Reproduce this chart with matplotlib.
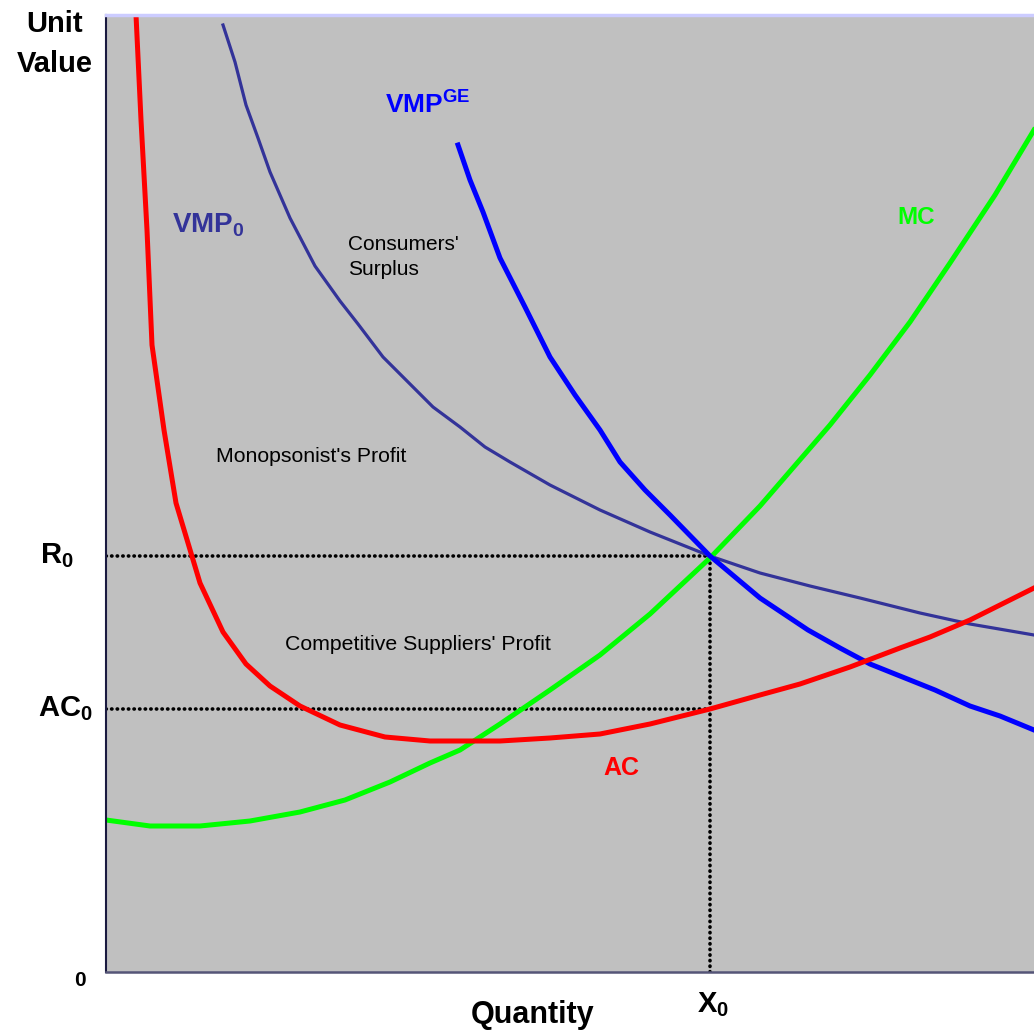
# monopsony diagram: unit value vs quantity
import matplotlib.pyplot as plt

plt.rcParams['font.family'] = ['Liberation Sans', 'DejaVu Sans']
plt.rcParams['mathtext.fontset'] = 'custom'
plt.rcParams['mathtext.bf'] = 'Liberation Sans:bold'
plt.rcParams['mathtext.rm'] = 'Liberation Sans'

# curves (quantity, unit value)
ac_x = [30, 35, 41, 46, 58, 70, 94, 117, 140, 164, 194, 234, 279, 324, 394, 444,
        494, 544, 604, 654, 694, 744, 794, 824, 864, 894, 928]
ac_y = [957, 852, 742, 627, 542, 469, 389, 340, 308, 286, 266, 247, 235, 231, 231, 234,
        238, 248, 263, 277, 288, 305, 324, 335, 352, 367, 384]

mc_x = [0, 44, 94, 144, 194, 239, 284, 324, 354, 394, 444, 494, 544, 604, 654, 724,
        764, 804, 844, 889, 928]
mc_y = [152, 146, 146, 151, 160, 172, 190, 209, 222, 248, 282, 317, 358, 414, 466, 547,
        597, 650, 709, 777, 842]

vmpge_x = [352, 364, 377, 394, 419, 444, 469, 494, 514, 539, 564, 604, 654, 702, 734,
           764, 794, 829, 864, 894, 928]
vmpge_y = [827, 792, 760, 714, 665, 615, 577, 542, 510, 482, 457, 416, 374, 342, 324,
           308, 296, 282, 266, 256, 242]

vmp0_x = [117, 129, 140, 152, 164, 184, 209, 234, 252, 277, 304, 327, 354, 379, 404, 444,
          494, 544, 604, 654, 704, 754, 814, 864, 928]
vmp0_y = [947, 910, 867, 834, 800, 754, 706, 671, 648, 615, 588, 565, 545, 525, 510, 487,
          462, 440, 416, 399, 386, 374, 359, 348, 337]

x0 = 604
r0 = 416
ac0 = 263

fig = plt.figure(figsize=(10.34, 10.33), dpi=100)
ax = fig.add_axes([106/1034, 61/1033, 928/1034, 957/1033])
ax.set_facecolor('#C0C0C0')
ax.set_xlim(0, 928)
ax.set_ylim(0, 957)

# dotted guide lines
dots = dict(color='black', lw=2.6, linestyle=(0, (0.1, 1.45)), dash_capstyle='round')
ax.plot([0, x0], [r0, r0], **dots)
ax.plot([0, x0], [ac0, ac0], **dots)
ax.plot([x0, x0], [0, r0], **dots)

ax.plot(vmp0_x, vmp0_y, color='#333399', lw=2.3)
ax.plot(mc_x, mc_y, color='#00FF00', lw=3.6)
ax.plot(vmpge_x, vmpge_y, color='#0000FF', lw=3.6)
ax.plot(ac_x, ac_y, color='#FF0000', lw=3.6)

# curve labels
ax.text(279, 867, r'$\mathbf{VMP^{GE}}$', color='#0000FF', fontsize=19, va='center')
ax.text(66, 747, r'$\mathbf{VMP_0}$', color='#333399', fontsize=20, va='center')
ax.text(791, 755, 'MC', color='#00FF00', fontsize=17.5, fontweight='bold', va='center')
ax.text(497, 204, 'AC', color='#FF0000', fontsize=18, fontweight='bold', va='center')

# area labels
ax.text(242, 715, "Consumers'\nSurplus", fontsize=15, va='center', linespacing=1.45)
ax.text(110, 515, "Monopsonist's Profit", fontsize=15.3, va='center')
ax.text(179, 327, "Competitive Suppliers' Profit", fontsize=15.3, va='center')

# axis labels
ax.text(-51, 928, 'Unit\nValue', fontsize=21, fontweight='bold', ha='center', va='center',
        linespacing=1.5, clip_on=False)
ax.text(-66, r0, r'$\mathbf{R_0}$', fontsize=21, va='center', clip_on=False)
ax.text(-68, ac0, r'$\mathbf{AC_0}$', fontsize=21, va='center', clip_on=False)
ax.text(-26, -8, '0', fontsize=15, fontweight='bold', ha='center', va='center', clip_on=False)
ax.text(607, -33, r'$\mathbf{X_0}$', fontsize=21, ha='center', va='center', clip_on=False)
ax.text(427, -43, 'Quantity', fontsize=22, fontweight='bold', ha='center', va='center',
        clip_on=False)

ax.set_xticks([])
ax.set_yticks([])
ax.spines['right'].set_visible(False)
ax.spines['top'].set_color('#CCCCFF')
ax.spines['top'].set_linewidth(2.5)
ax.spines['left'].set_color('#1A1A40')
ax.spines['left'].set_linewidth(1.5)
ax.spines['bottom'].set_color('#555577')
ax.spines['bottom'].set_linewidth(1.8)

plt.savefig('out.png', dpi=100)
